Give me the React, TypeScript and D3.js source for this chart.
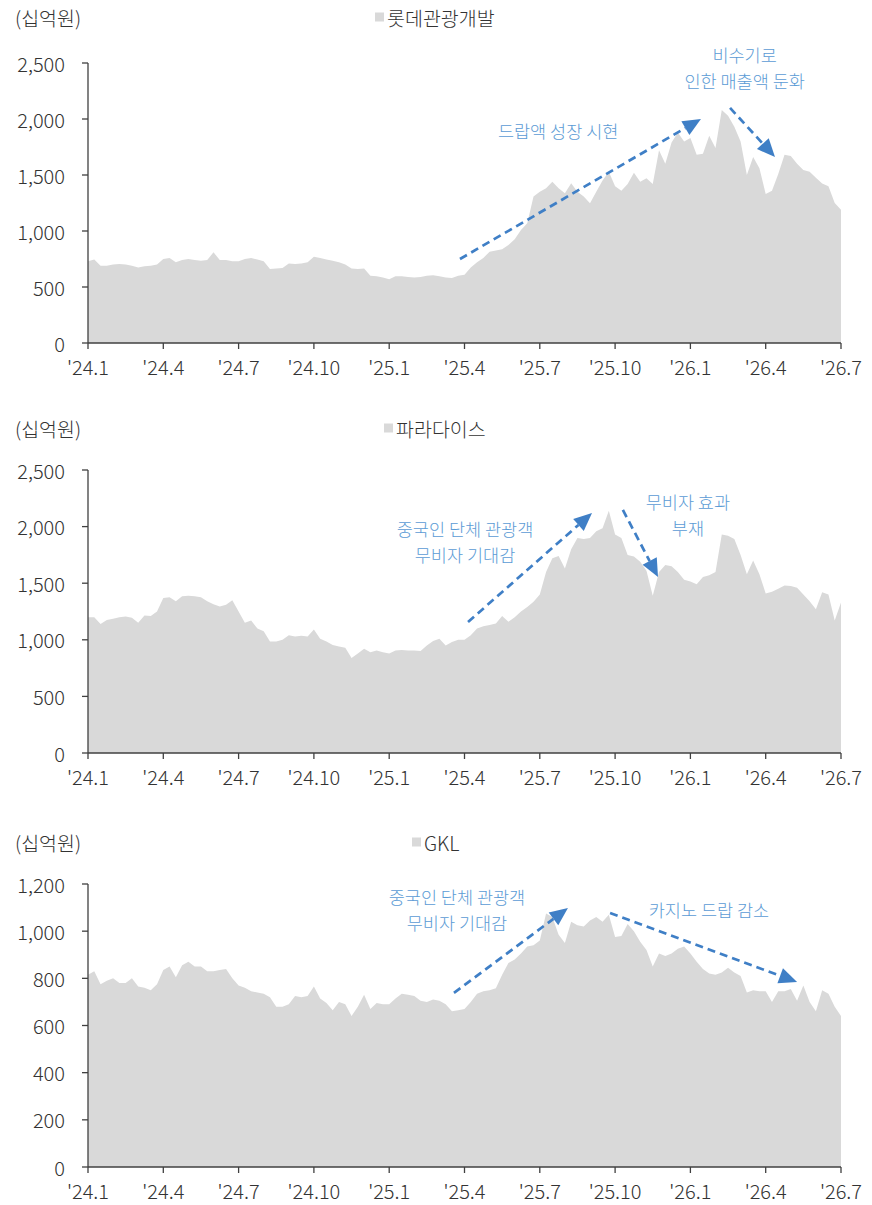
import React from "react";
import * as d3 from "d3";

// 4 readings per month, '24.1 ~ '26.7
const lotteValues = [
  730, 745, 690, 690, 700, 705, 700, 690, 675, 685,
  690, 700, 750, 760, 720, 740, 750, 740, 735, 740,
  810, 740, 740, 730, 730, 750, 760, 745, 730, 660,
  665, 670, 710, 705, 710, 720, 770, 760, 745, 735,
  720, 700, 665, 660, 665, 600, 595, 585, 570, 595,
  595, 590, 585, 590, 600, 605, 595, 585, 580, 600,
  610, 675, 720, 760, 815, 825, 837, 875, 926, 1009,
  1069, 1307, 1351, 1381, 1440, 1381, 1337, 1426, 1351, 1307,
  1247, 1351, 1450, 1530, 1400, 1360, 1420, 1520, 1440, 1470,
  1420, 1720, 1600, 1790, 1880, 1800, 1830, 1680, 1690, 1850,
  1740, 2080, 2030, 1930, 1800, 1500, 1660, 1560, 1330, 1360,
  1510, 1680, 1670, 1600, 1545, 1530, 1475, 1425, 1400, 1250, 1190,
];

const paradiseValues = [
  1200, 1200, 1140, 1175, 1185, 1200, 1205, 1195, 1150, 1215,
  1210, 1250, 1370, 1375, 1340, 1385, 1390, 1385, 1375, 1340,
  1315, 1295, 1310, 1350, 1250, 1150, 1170, 1100, 1075, 985,
  985, 1000, 1040, 1030, 1035, 1030, 1090, 1010, 985, 955,
  940, 930, 840, 880, 920, 890, 905, 890, 880, 905,
  910, 905, 905, 900, 950, 990, 1010, 950, 980, 1000,
  1000, 1040, 1100, 1120, 1130, 1145, 1210, 1160, 1200, 1250,
  1290, 1337, 1400, 1600, 1720, 1740, 1630, 1800, 1900, 1890,
  1900, 1960, 1985, 2140, 1930, 1900, 1750, 1735, 1690, 1610,
  1390, 1600, 1660, 1650, 1600, 1530, 1515, 1490, 1555, 1570,
  1600, 1930, 1920, 1890, 1750, 1580, 1700, 1580, 1410, 1425,
  1450, 1480, 1475, 1460, 1400, 1340, 1270, 1420, 1400, 1170, 1330,
];

const gklValues = [
  815, 830, 775, 790, 800, 780, 780, 800, 765, 760,
  750, 775, 835, 850, 805, 855, 870, 850, 850, 830,
  830, 835, 840, 800, 770, 760, 745, 740, 735, 720,
  680, 680, 690, 725, 720, 725, 765, 715, 695, 665,
  700, 690, 640, 680, 730, 670, 695, 690, 690, 715,
  735, 730, 725, 705, 700, 710, 705, 690, 660, 665,
  670, 700, 735, 745, 750, 758, 815, 865, 880, 905,
  935, 940, 960, 1075, 1060, 985, 950, 1040, 1025, 1020,
  1045, 1060, 1040, 1070, 975, 980, 1030, 1000, 955, 920,
  850, 905, 895, 905, 925, 935, 905, 870, 840, 820,
  815, 825, 845, 825, 810, 740, 750, 745, 745, 700,
  745, 745, 755, 705, 770, 700, 660, 750, 735, 680, 640,
];

const pointsPerMonth = 4;
const tickMonths = [0, 3, 6, 9, 12, 15, 18, 21, 24, 27, 30];
const tickLabels = ["'24.1", "'24.4", "'24.7", "'24.10", "'25.1", "'25.4", "'25.7", "'25.10", "'26.1", "'26.4", "'26.7"];
const ticksBig = [0, 500, 1000, 1500, 2000, 2500];
const ticksGkl = [0, 200, 400, 600, 800, 1000, 1200];
const unitLabel = "(십억원)";

const font = "'Noto Sans CJK KR', 'Noto Sans', sans-serif";
const weight = 300;
const textColor = "#333333";
const axisColor = "#404040";
const areaColor = "#d9d9d9";
const noteColor = "#5b9bd5";
const arrowColor = "#3f7fc6";

type Note = { lines: string[]; m: number; v: number };
type Arrow = { from: [number, number]; to: [number, number] };

const panels = [
  {
    name: "롯데관광개발",
    values: lotteValues,
    ticks: ticksBig,
    top: 63,
    bottom: 343,
    headY: 17,
    legendX: 375,
    notes: [
      { lines: ["드랍액 성장 시현"], m: 18.73, v: 1893 },
      { lines: ["비수기로", "인한 매출액 둔화"], m: 26.16, v: 2572 },
    ] as Note[],
    arrows: [
      { from: [14.82, 750], to: [24.42, 2000] },
      { from: [25.58, 2099], to: [27.37, 1661] },
    ] as Arrow[],
  },
  {
    name: "파라다이스",
    values: paradiseValues,
    ticks: ticksBig,
    top: 470,
    bottom: 753,
    headY: 428,
    legendX: 384,
    notes: [
      { lines: ["중국인 단체 관광객", "무비자 기대감"], m: 15.02, v: 1979 },
      { lines: ["무비자 효과", "부재"], m: 23.9, v: 2226 },
    ] as Note[],
    arrows: [
      { from: [15.14, 1157], to: [20.08, 2120] },
      { from: [21.31, 2147], to: [22.71, 1555] },
    ] as Arrow[],
  },
  {
    name: "GKL",
    values: gklValues,
    ticks: ticksGkl,
    top: 884,
    bottom: 1167,
    headY: 842,
    legendX: 412,
    notes: [
      { lines: ["중국인 단체 관광객", "무비자 기대감"], m: 14.7, v: 1149 },
      { lines: ["카지노 드랍 감소"], m: 24.74, v: 1090 },
    ] as Note[],
    arrows: [
      { from: [14.58, 738], to: [19.12, 1098] },
      { from: [20.8, 1077], to: [28.25, 784] },
    ] as Arrow[],
  },
];

const x = d3.scaleLinear().domain([0, 30]).range([88, 841]);
const fmt = d3.format(",");

function DashedArrow({ x1, y1, x2, y2 }: { x1: number; y1: number; x2: number; y2: number }) {
  const a = Math.atan2(y2 - y1, x2 - x1);
  const len = 18;
  const hw = 8;
  const bx = x2 - len * Math.cos(a);
  const by = y2 - len * Math.sin(a);
  const px = -Math.sin(a) * hw;
  const py = Math.cos(a) * hw;
  return (
    <g>
      <line x1={x1} y1={y1} x2={bx} y2={by} stroke={arrowColor} strokeWidth={2.7} strokeDasharray="8 5" />
      <polygon points={`${x2},${y2} ${bx + px},${by + py} ${bx - px},${by - py}`} fill={arrowColor} />
    </g>
  );
}

function Panel({ p }: { p: (typeof panels)[number] }) {
  const yMax = p.ticks[p.ticks.length - 1];
  const y = d3.scaleLinear().domain([0, yMax]).range([p.bottom, p.top]);
  const area = d3
    .area<number>()
    .x((_, i) => x(i / pointsPerMonth))
    .y0(y(0))
    .y1((d) => y(d));

  return (
    <g fontFamily={font} fontWeight={weight}>
      <text x={15} y={p.headY} dominantBaseline="central" fontSize={19.5} fill={textColor}>
        {unitLabel}
      </text>
      <rect x={p.legendX} y={p.headY - 4.5} width={9} height={9} fill={areaColor} />
      <text x={p.legendX + 12} y={p.headY} dominantBaseline="central" fontSize={19.5} fill={textColor}>
        {p.name}
      </text>

      <path d={area(p.values) ?? ""} fill={areaColor} />

      {/* y axis */}
      <line x1={x(0)} x2={x(0)} y1={y(yMax)} y2={y(0)} stroke={axisColor} strokeWidth={1.3} />
      {p.ticks.map((t) => (
        <g key={t}>
          <line x1={x(0) - 6} x2={x(0)} y1={y(t)} y2={y(t)} stroke={axisColor} strokeWidth={1.3} />
          <text x={65} y={y(t)} textAnchor="end" dominantBaseline="central" fontSize={20} fill={textColor}>
            {fmt(t)}
          </text>
        </g>
      ))}

      {/* x axis */}
      <line x1={x(0)} x2={x(30)} y1={y(0)} y2={y(0)} stroke={axisColor} strokeWidth={1.5} />
      {tickMonths.map((m, i) => (
        <g key={m}>
          <line x1={x(m)} x2={x(m)} y1={y(0)} y2={y(0) + 6} stroke={axisColor} strokeWidth={1.3} />
          <text x={x(m)} y={y(0) + 23} textAnchor="middle" dominantBaseline="central" fontSize={20} fill={textColor}>
            {tickLabels[i]}
          </text>
        </g>
      ))}

      {p.arrows.map((a, i) => (
        <DashedArrow key={i} x1={x(a.from[0])} y1={y(a.from[1])} x2={x(a.to[0])} y2={y(a.to[1])} />
      ))}
      {p.notes.map((n, i) => (
        <text key={i} textAnchor="middle" fontSize={17.5} fill={noteColor}>
          {n.lines.map((l, j) => (
            <tspan key={j} x={x(n.m)} y={y(n.v) + j * 26} dominantBaseline="central">
              {l}
            </tspan>
          ))}
        </text>
      ))}
    </g>
  );
}

export default function App() {
  return (
    <svg
      width={872}
      height={1205}
      viewBox="0 0 872 1205"
      style={{ position: "absolute", left: 0, top: 0, background: "#fff" }}
    >
      {panels.map((p) => (
        <Panel key={p.name} p={p} />
      ))}
    </svg>
  );
}
